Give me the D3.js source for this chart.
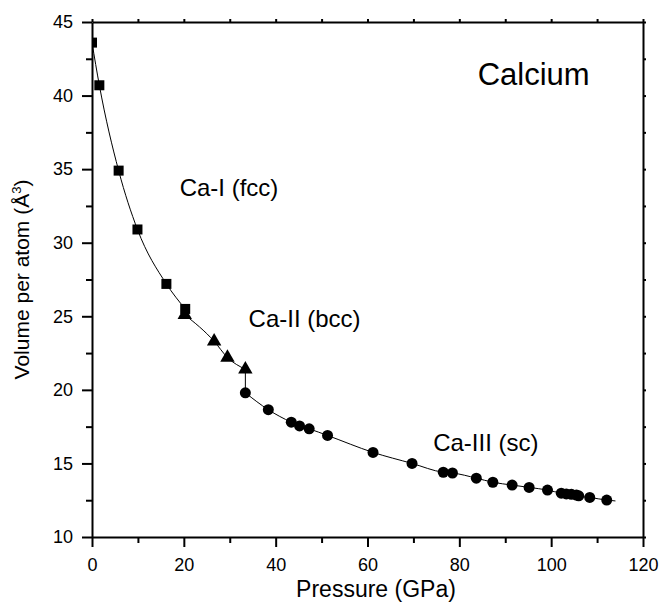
<!DOCTYPE html>
<html lang="en">
	<head>
		<meta charset="utf-8">
		<title>Calcium: volume per atom vs pressure</title>
		<script type="text/javascript" src="https://d3js.org/d3.v7.min.js"></script>
		<style type="text/css">
            body { margin: 0; background: #fff; }
            svg { display: block; font-family: "Liberation Sans", Arial, sans-serif; }
            .axis path, .axis line { stroke: #000; stroke-width: 2px; }
            .axis text { font-size: 18px; fill: #000; }
            .fit { fill: none; stroke: #000; stroke-width: 1px; }
            .note { font-size: 24px; fill: #000; }
		</style>
	</head>
	<body>
		<script type="text/javascript">

            //Ca-I (fcc) points, squares
            var fccP = [0, 1.6, 5.8, 9.9, 16.2, 20.3];
            var fccV = [43.6, 40.7, 34.9, 30.9, 27.2, 25.5];

            //Ca-II (bcc) points, triangles
            var bccP = [20.2, 26.6, 29.5, 33.4];
            var bccV = [25.1, 23.3, 22.2, 21.4];

            //Ca-III (sc) points, circles
            var scP = [33.4, 38.4, 43.4, 45.2, 47.3, 51.3, 61.2, 69.7, 76.5, 78.5, 83.7, 87.3,
                       91.5, 95.2, 99.2, 102.2, 103.3, 104.4, 105.5, 106.0, 108.4, 112.1];
            var scV = [19.8, 18.65, 17.8, 17.55, 17.35, 16.9, 15.75, 15.0, 14.4, 14.35, 14.0, 13.72,
                       13.53, 13.37, 13.19, 12.98, 12.93, 12.9, 12.85, 12.8, 12.69, 12.51];

            //end of the sc fit line past the last point
            var scTailP = [114];
            var scTailV = [12.45];

            //tick values
            var xMajor = [0, 20, 40, 60, 80, 100, 120];
            var xMinor = [10, 30, 50, 70, 90, 110];
            var yMajor = [10, 15, 20, 25, 30, 35, 40, 45];
            var yMinor = [12.5, 17.5, 22.5, 27.5, 32.5, 37.5, 42.5];

            var notes = ["Calcium", "Ca-I (fcc)", "Ca-II (bcc)", "Ca-III (sc)"];

			//Width and height
			var w = 662;
			var h = 602;
            var margin = {top: 22, right: 19, bottom: 65, left: 92};
            var pw = w - margin.left - margin.right;
            var ph = h - margin.top - margin.bottom;

            var x = d3.scaleLinear().domain([0, 120]).range([0, pw]);
            var y = d3.scaleLinear().domain([10, 45]).range([ph, 0]);

			var svg = d3.select("body")
				.append("svg")
				.attr("width", w)
				.attr("height", h);

            var g = svg.append("g")
                .attr("transform", "translate(" + margin.left + "," + margin.top + ")");

            g.append("clipPath").attr("id", "plotclip")
                .append("rect").attr("width", pw).attr("height", ph);

            function zip(ps, vs) {
                return ps.map(function(p, i) { return [p, vs[i]]; });
            }

            var fcc = zip(fccP, fccV);
            var bcc = zip(bccP, bccV);
            var sc = zip(scP, scV);

            var line = d3.line()
                .x(function(d) { return x(d[0]); })
                .y(function(d) { return y(d[1]); })
                .curve(d3.curveMonotoneX);

            var plot = g.append("g").attr("clip-path", "url(#plotclip)");

            //fit lines through each phase, plus the drop at the bcc -> sc transition
            plot.append("path").attr("class", "fit").attr("d", line(fcc));
            plot.append("path").attr("class", "fit").attr("d", line(bcc));
            plot.append("path").attr("class", "fit")
                .attr("d", d3.line()(
                    [[x(bccP[bccP.length - 1]), y(bccV[bccV.length - 1])], [x(scP[0]), y(scV[0])]]));
            plot.append("path").attr("class", "fit")
                .attr("d", line(sc.concat(zip(scTailP, scTailV))));

            //markers
            var sq = 10;
            plot.selectAll("rect.fcc")
                .data(fcc)
                .enter().append("rect")
                .attr("class", "fcc")
                .attr("x", function(d) { return x(d[0]) - sq / 2; })
                .attr("y", function(d) { return y(d[1]) - sq / 2; })
                .attr("width", sq)
                .attr("height", sq)
                .attr("fill", "#000");

            var tri = d3.symbol().type(d3.symbolTriangle).size(90);
            plot.selectAll("path.bcc")
                .data(bcc)
                .enter().append("path")
                .attr("class", "bcc")
                .attr("d", tri)
                .attr("transform", function(d) { return "translate(" + x(d[0]) + "," + y(d[1]) + ")"; })
                .attr("fill", "#000");

            plot.selectAll("circle.sc")
                .data(sc)
                .enter().append("circle")
                .attr("class", "sc")
                .attr("cx", function(d) { return x(d[0]); })
                .attr("cy", function(d) { return y(d[1]); })
                .attr("r", 5.5)
                .attr("fill", "#000");

            //axes: bottom and left with labels, top and right with small outward ticks
            g.append("g").attr("class", "axis")
                .attr("transform", "translate(0," + ph + ")")
                .call(d3.axisBottom(x).tickValues(xMajor).tickSize(10).tickSizeOuter(0).tickPadding(11));
            g.append("g").attr("class", "axis")
                .attr("transform", "translate(0," + ph + ")")
                .call(d3.axisBottom(x).tickValues(xMinor).tickSize(6).tickFormat(""))
                .select(".domain").remove();

            g.append("g").attr("class", "axis")
                .call(d3.axisLeft(y).tickValues(yMajor).tickSize(10).tickSizeOuter(0).tickPadding(9));
            g.append("g").attr("class", "axis")
                .call(d3.axisLeft(y).tickValues(yMinor).tickSize(6).tickFormat(""))
                .select(".domain").remove();

            g.append("g").attr("class", "axis")
                .call(d3.axisTop(x).tickValues(xMajor.concat(xMinor)).tickSize(3).tickSizeOuter(0).tickFormat(""));
            g.append("g").attr("class", "axis")
                .attr("transform", "translate(" + pw + ",0)")
                .call(d3.axisRight(y).tickValues(yMajor.concat(yMinor)).tickSize(3).tickSizeOuter(0).tickFormat(""));

            //axis titles
            svg.append("text")
                .attr("x", 376)
                .attr("y", 597)
                .attr("text-anchor", "middle")
                .style("font-size", "23px")
                .text("Pressure (GPa)");

            var yt = svg.append("text")
                .attr("transform", "translate(29," + (margin.top + ph / 2) + ") rotate(-90)")
                .attr("text-anchor", "middle")
                .style("font-size", "21px");
            yt.append("tspan").text("Volume per atom (Å");
            yt.append("tspan").attr("dy", -8).style("font-size", "13px").text("3");
            yt.append("tspan").attr("dy", 8).text(")");

            //annotations
            g.append("text").attr("class", "note").style("font-size", "31px")
                .attr("x", x(84.0)).attr("y", y(40.75)).text(notes[0]);
            g.append("text").attr("class", "note")
                .attr("x", x(19.1)).attr("y", y(33.15)).text(notes[1]);
            g.append("text").attr("class", "note")
                .attr("x", x(34.1)).attr("y", y(24.3)).text(notes[2]);
            g.append("text").attr("class", "note")
                .attr("x", x(74.3)).attr("y", y(15.85)).text(notes[3]);

		</script>
	</body>
</html>
